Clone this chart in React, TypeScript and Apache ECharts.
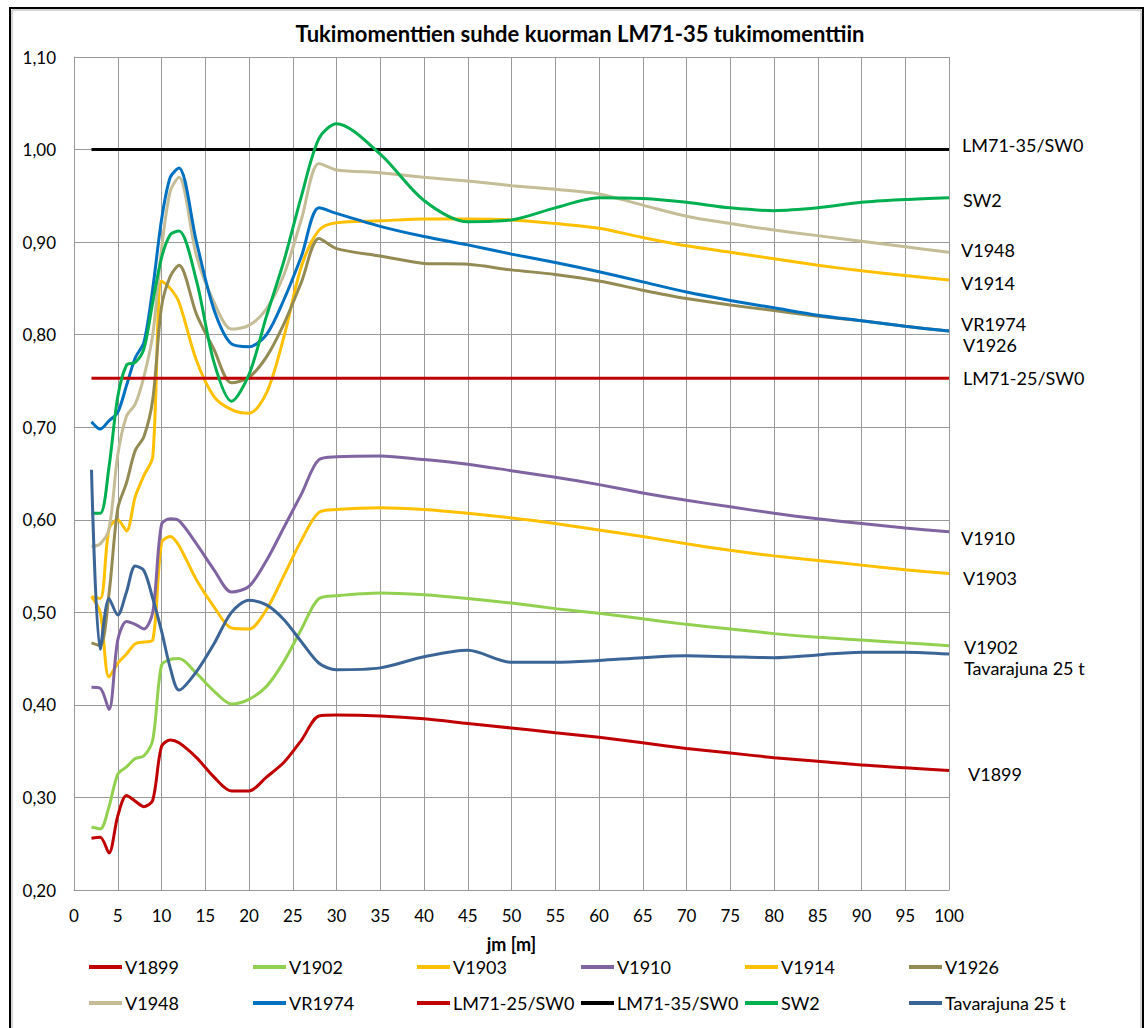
import React, { useEffect, useRef } from "react";
import * as echarts from "echarts";

const X = [2, 3, 4, 5, 6, 7, 8, 9, 10, 11, 12, 14, 16, 18, 20, 22, 24, 26, 28, 30, 35, 40, 45, 50, 55, 60, 65, 70, 75, 80, 85, 90, 95, 100];
const X_CONST = [2, 100];

const V1899 = [0.256, 0.257, 0.240, 0.280, 0.302, 0.296, 0.290, 0.297, 0.355, 0.362, 0.359, 0.343, 0.322, 0.307, 0.307, 0.322, 0.338, 0.362, 0.388, 0.389, 0.388, 0.385, 0.380, 0.375, 0.370, 0.365, 0.359, 0.353, 0.348, 0.343, 0.339, 0.335, 0.332, 0.329];
const V1902 = [0.268, 0.266, 0.290, 0.325, 0.333, 0.342, 0.345, 0.362, 0.443, 0.449, 0.450, 0.434, 0.415, 0.401, 0.406, 0.420, 0.447, 0.482, 0.515, 0.518, 0.521, 0.519, 0.515, 0.510, 0.504, 0.499, 0.493, 0.487, 0.482, 0.477, 0.473, 0.470, 0.467, 0.464];
const V1903 = [0.517, 0.500, 0.430, 0.445, 0.455, 0.466, 0.468, 0.470, 0.575, 0.582, 0.572, 0.535, 0.506, 0.483, 0.482, 0.503, 0.540, 0.578, 0.608, 0.611, 0.613, 0.611, 0.607, 0.602, 0.596, 0.589, 0.582, 0.574, 0.567, 0.561, 0.556, 0.551, 0.546, 0.542];
const V1910 = [0.419, 0.418, 0.395, 0.470, 0.490, 0.487, 0.482, 0.500, 0.595, 0.601, 0.599, 0.574, 0.546, 0.522, 0.528, 0.556, 0.592, 0.628, 0.665, 0.668, 0.669, 0.665, 0.660, 0.653, 0.646, 0.638, 0.629, 0.621, 0.614, 0.607, 0.601, 0.596, 0.591, 0.587];
const V1914 = [0.517, 0.515, 0.590, 0.600, 0.588, 0.625, 0.648, 0.668, 0.858, 0.850, 0.835, 0.772, 0.733, 0.719, 0.715, 0.737, 0.798, 0.874, 0.913, 0.921, 0.923, 0.925, 0.925, 0.924, 0.920, 0.915, 0.905, 0.896, 0.889, 0.882, 0.875, 0.869, 0.864, 0.859];
const V1926 = [0.467, 0.464, 0.520, 0.612, 0.640, 0.675, 0.690, 0.730, 0.830, 0.863, 0.875, 0.822, 0.784, 0.748, 0.754, 0.776, 0.812, 0.857, 0.904, 0.893, 0.885, 0.877, 0.876, 0.870, 0.865, 0.858, 0.848, 0.839, 0.832, 0.826, 0.820, 0.815, 0.809, 0.804];
const V1948 = [0.571, 0.574, 0.590, 0.670, 0.712, 0.725, 0.755, 0.800, 0.892, 0.955, 0.970, 0.885, 0.835, 0.806, 0.810, 0.828, 0.865, 0.925, 0.985, 0.978, 0.975, 0.970, 0.966, 0.961, 0.957, 0.952, 0.940, 0.928, 0.920, 0.913, 0.907, 0.901, 0.895, 0.889];
const VR1974 = [0.706, 0.698, 0.707, 0.716, 0.745, 0.775, 0.792, 0.850, 0.924, 0.970, 0.980, 0.900, 0.827, 0.790, 0.787, 0.800, 0.838, 0.885, 0.937, 0.931, 0.917, 0.906, 0.897, 0.887, 0.878, 0.868, 0.857, 0.846, 0.837, 0.829, 0.821, 0.815, 0.809, 0.804];
const LM71_25 = [0.753, 0.753];
const LM71_35 = [1.0, 1.0];
const SW2 = [0.607, 0.607, 0.657, 0.733, 0.767, 0.770, 0.785, 0.835, 0.883, 0.908, 0.912, 0.858, 0.770, 0.728, 0.757, 0.820, 0.880, 0.950, 1.012, 1.028, 0.995, 0.945, 0.922, 0.924, 0.937, 0.948, 0.947, 0.943, 0.937, 0.934, 0.937, 0.943, 0.946, 0.948];
const TAVARAJUNA = [0.654, 0.460, 0.515, 0.497, 0.522, 0.550, 0.545, 0.515, 0.480, 0.440, 0.416, 0.436, 0.466, 0.500, 0.513, 0.508, 0.492, 0.468, 0.445, 0.438, 0.440, 0.452, 0.459, 0.446, 0.446, 0.448, 0.451, 0.453, 0.452, 0.451, 0.454, 0.457, 0.457, 0.455];

const NAMES = ["V1899", "V1902", "V1903", "V1910", "V1914", "V1926", "V1948", "VR1974", "LM71-25/SW0", "LM71-35/SW0", "SW2", "Tavarajuna 25 t"];
const VALUES = [V1899, V1902, V1903, V1910, V1914, V1926, V1948, VR1974, LM71_25, LM71_35, SW2, TAVARAJUNA];
const COLORS = ["#c00000", "#92d050", "#ffc000", "#8064a2", "#ffc000", "#948a54", "#c4bd97", "#0070c0", "#c00000", "#000000", "#00b050", "#3b6596"];

const TITLE = "Tukimomenttien suhde kuorman LM71-35 tukimomenttiin";
const X_NAME = "jm [m]";

// right-side end labels: [text, left x, center y]
const END_LABELS: [string, number, number][] = [
  ["LM71-35/SW0", 962, 145],
  ["SW2", 963, 200],
  ["V1948", 961, 250],
  ["V1914", 961, 283],
  ["VR1974", 961, 324],
  ["V1926", 963, 345],
  ["LM71-25/SW0", 963, 378],
  ["V1910", 961, 538],
  ["V1903", 963, 578],
  ["V1902", 964, 647],
  ["Tavarajuna 25 t", 964, 668],
  ["V1899", 968, 774],
];

const FONT = "Lato, 'Open Sans', sans-serif";

export default function App() {
  const ref = useRef<HTMLDivElement>(null);
  useEffect(() => {
    const chart = echarts.init(ref.current!, null, { renderer: "svg" });
    const series = NAMES.map((name, i) => {
      const xs = VALUES[i].length === 2 ? X_CONST : X;
      return {
        name,
        type: "line",
        data: VALUES[i].map((v, j) => [xs[j], v]),
        smooth: 0.3,
        symbol: "none",
        showSymbol: false,
        lineStyle: { width: 3, color: COLORS[i] },
        itemStyle: { color: COLORS[i] },
        z: 2 + i,
      };
    });
    const legends = NAMES.map((name, i) => ({
      left: 89 + (i % 6) * 164,
      top: i < 6 ? 958 : 994,
      padding: 0,
      orient: "horizontal",
      icon: "rect",
      itemWidth: 33,
      itemHeight: 4,
      itemGap: 0,
      selectedMode: false,
      data: [name],
      textStyle: { fontSize: 18, fontFamily: FONT, color: "#000", padding: [0, 0, 0, -2] },
    }));
    const option = {
      animation: false,
      backgroundColor: "#fff",
      grid: { left: 74, right: 197, top: 57, bottom: 138, containLabel: false },
      xAxis: {
        type: "value",
        min: 0,
        max: 100,
        interval: 5,
        name: X_NAME,
        nameLocation: "middle",
        nameGap: 45,
        nameTextStyle: { fontSize: 18, fontWeight: "bold", fontFamily: FONT, color: "#000" },
        axisLine: { show: true, lineStyle: { color: "#999", width: 1 } },
        axisTick: { show: false },
        axisLabel: { fontSize: 17, fontFamily: FONT, color: "#000", margin: 17 },
        splitLine: { show: true, lineStyle: { color: "#999", width: 1 } },
      },
      yAxis: {
        type: "value",
        min: 0.2,
        max: 1.1,
        interval: 0.1,
        axisLine: { show: true, lineStyle: { color: "#999", width: 1 } },
        axisTick: { show: false },
        axisLabel: {
          fontSize: 17,
          fontFamily: FONT,
          color: "#000",
          margin: 18,
          formatter: (v: number) => v.toFixed(2).replace(".", ","),
        },
        splitLine: { show: true, lineStyle: { color: "#999", width: 1 } },
      },
      legend: legends,
      graphic: [
        {
          type: "rect",
          shape: { x: 10, y: 8, width: 1133, height: 1100 },
          style: { fill: "none", stroke: "#000", lineWidth: 2 },
          silent: true,
        },
        {
          type: "rect",
          shape: { x: 12, y: 10, width: 1129, height: 1100 },
          style: { fill: "none", stroke: "#aaa", lineWidth: 1 },
          silent: true,
        },
        {
          type: "text",
          style: {
            text: TITLE,
            x: 580,
            y: 33,
            textAlign: "center",
            textVerticalAlign: "middle",
            font: `bold 22px ${FONT}`,
            fill: "#000",
          },
        },
        ...END_LABELS.map(([t, x, y]) => ({
          type: "text",
          style: {
            text: t,
            x,
            y,
            textAlign: "left",
            textVerticalAlign: "middle",
            font: `18px ${FONT}`,
            lineHeight: 18,
            fill: "#000",
          },
        })),
      ],
      series,
    };
    chart.setOption(option as any);
    return () => chart.dispose();
  }, []);
  return (
    <div
      ref={ref}
      style={{ position: "fixed", left: 0, top: 0, width: 1146, height: 1028, background: "#fff" }}
    />
  );
}
